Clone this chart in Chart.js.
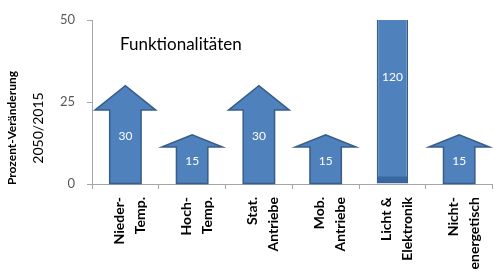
<!DOCTYPE html>
<html>
<head>
<meta charset="utf-8">
<script src="https://cdn.jsdelivr.net/npm/chart.js@4/dist/chart.umd.min.js"></script>
<style>
  html, body { margin: 0; padding: 0; background: #fff; overflow: hidden; }
  #wrap { width: 510px; height: 276px; }
</style>
</head>
<body>
<div id="wrap"><canvas id="chart_func" width="510" height="276"></canvas></div>
<script>
// data
var categories = [
    ['Nieder-', 'Temp.'],
    ['Hoch-', 'Temp.'],
    ['Stat.', 'Antriebe'],
    ['Mob.', 'Antriebe'],
    ['Licht &', 'Elektronik'],
    ['Nicht-', 'energetisch']
];
var changes = [30, 15, 30, 15, 120, 15];
var yTicks = [0, 25, 50];
var chartTitle = 'Funktionalitäten';
var yTitle = ['Prozent-Veränderung', '2050/2015'];

var FONT = 'Lato, "Open Sans", sans-serif';
var BLUE = '#4f81bd';
var EDGE = '#385d8a';
var yMax = yTicks[yTicks.length - 1];

// draws arrows instead of plain bars, plus labels and titles
var arrowPlugin = {
    id: 'arrows',
    afterDatasetsDraw: function (chart) {
        var ctx = chart.ctx;
        var area = chart.chartArea;
        var meta = chart.getDatasetMeta(0);
        var xs = chart.scales.x;
        var catW = (xs.right - xs.left) / categories.length;

        ctx.save();
        meta.data.forEach(function (bar, i) {
            var v = changes[i];
            var x = bar.x;
            var base = bar.base;
            var half = bar.width / 2;
            var labelY;
            if (v <= yMax) {
                var tip = bar.y;
                var headH = (base - tip) * 0.25;
                var headHalf = catW * 0.455;
                ctx.beginPath();
                ctx.moveTo(x - half, base);
                ctx.lineTo(x - half, tip + headH);
                ctx.lineTo(x - headHalf, tip + headH);
                ctx.lineTo(x, tip);
                ctx.lineTo(x + headHalf, tip + headH);
                ctx.lineTo(x + half, tip + headH);
                ctx.lineTo(x + half, base);
                ctx.closePath();
                ctx.fillStyle = BLUE;
                ctx.fill();
                ctx.lineWidth = 1.5;
                ctx.strokeStyle = EDGE;
                ctx.stroke();
                labelY = (base + tip) / 2 + 2;
            } else {
                // bar runs off the scale: darker foot marks the break
                ctx.fillStyle = '#3a679e';
                ctx.fillRect(x - half + 1, base - 7, bar.width - 2, 6);
                labelY = area.top + (base - area.top) * 0.35;
            }
            ctx.fillStyle = '#ffffff';
            ctx.font = '12px ' + FONT;
            ctx.textAlign = 'center';
            ctx.textBaseline = 'middle';
            ctx.fillText(String(v), x, labelY);
        });

        // title inside the plot
        ctx.fillStyle = '#000000';
        ctx.font = '17px ' + FONT;
        ctx.textAlign = 'left';
        ctx.textBaseline = 'middle';
        ctx.fillText(chartTitle, area.left + 28, area.top + 25);

        // y axis title, two lines
        ctx.translate(0, 128);
        ctx.rotate(-Math.PI / 2);
        ctx.textAlign = 'center';
        ctx.font = 'bold 12px ' + FONT;
        ctx.fillText(yTitle[0], 0, 12);
        ctx.font = '14px ' + FONT;
        ctx.fillText(yTitle[1], 0, 38);
        ctx.restore();
    }
};

var ctx = document.getElementById('chart_func').getContext('2d');
var funcChart = new Chart(ctx, {
    type: 'bar',
    data: {
        labels: categories,
        datasets: [{
            data: changes,
            backgroundColor: changes.map(function (v) { return v > yMax ? BLUE : 'rgba(0,0,0,0)'; }),
            borderColor: changes.map(function (v) { return v > yMax ? EDGE : 'rgba(0,0,0,0)'; }),
            borderWidth: 1.5,
            borderSkipped: false,
            barPercentage: 0.47,
            categoryPercentage: 1
        }]
    },
    options: {
        responsive: false,
        animation: false,
        layout: { padding: { top: 20, right: 10, left: 0, bottom: 0 } },
        plugins: {
            legend: { display: false },
            tooltip: { enabled: false }
        },
        scales: {
            x: {
                grid: {
                    drawOnChartArea: false,
                    drawTicks: true,
                    tickLength: 5,
                    color: '#a6a6a6',
                    offset: true
                },
                border: { color: '#a6a6a6' },
                ticks: {
                    color: '#000000',
                    minRotation: 90,
                    maxRotation: 90,
                    autoSkip: false,
                    padding: 8,
                    labelOffset: -6,
                    font: { family: FONT, size: 14, weight: 'bold', lineHeight: 1.5 }
                },
                afterFit: function (scale) { scale.height = 92; }
            },
            y: {
                min: 0,
                max: yMax,
                afterBuildTicks: function (scale) {
                    scale.ticks = yTicks.map(function (t) { return { value: t }; });
                },
                grid: {
                    drawOnChartArea: false,
                    drawTicks: true,
                    tickLength: 5,
                    color: '#a6a6a6'
                },
                border: { color: '#a6a6a6' },
                ticks: {
                    color: '#595959',
                    padding: 12,
                    font: { family: FONT, size: 13 }
                },
                afterFit: function (scale) { scale.width = 92; }
            }
        }
    },
    plugins: [arrowPlugin]
});
</script>
</body>
</html>
